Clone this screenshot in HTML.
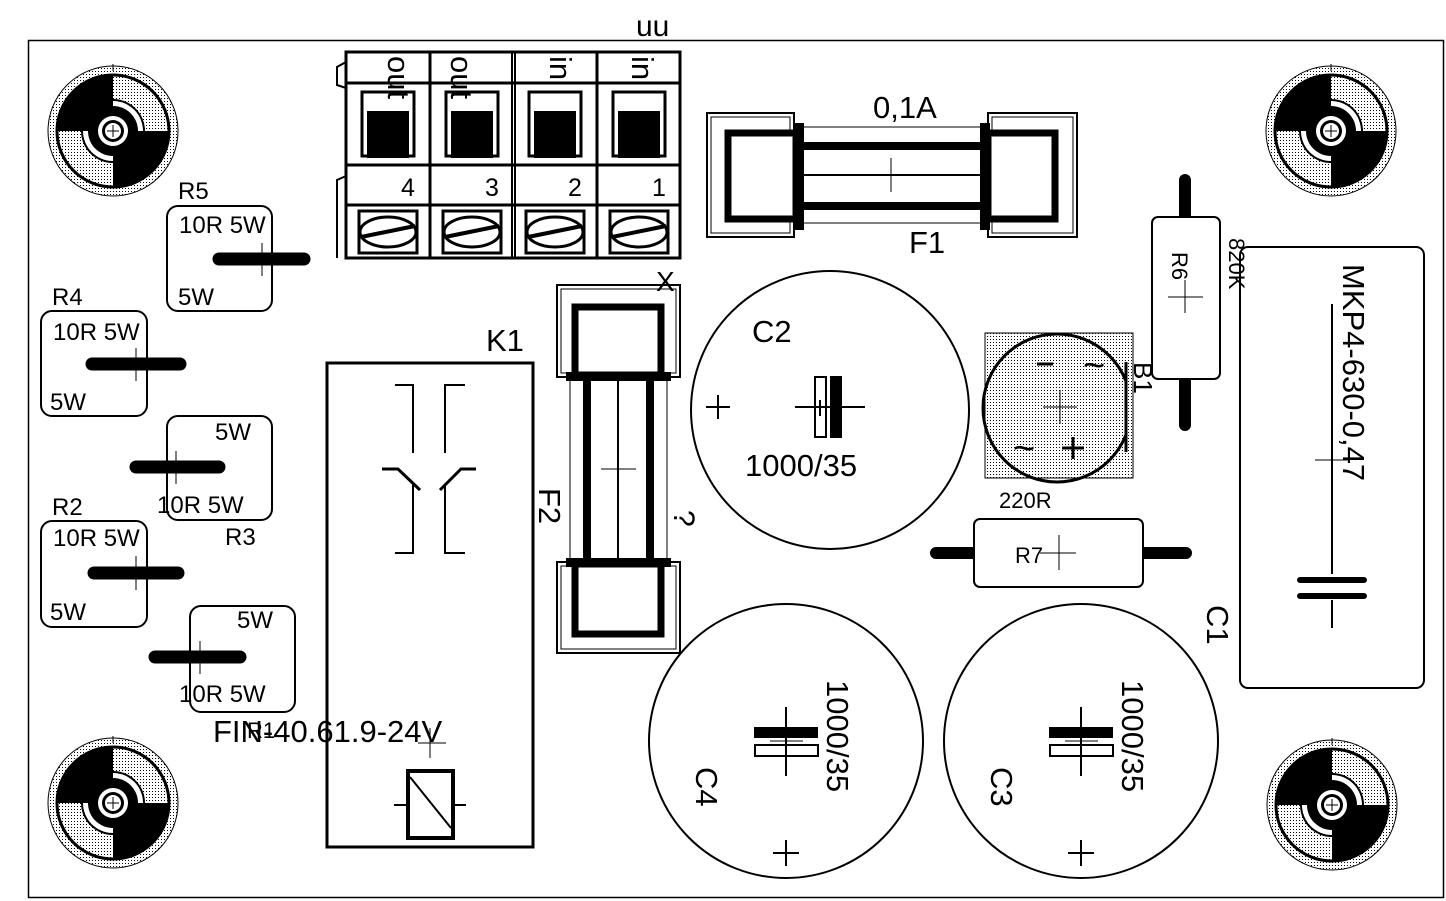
<!DOCTYPE html>
<html><head><meta charset="utf-8"><style>
html,body{margin:0;padding:0;background:#fff}
svg{display:block}
text{font-family:"Liberation Sans",sans-serif;fill:#000}
</style></head><body>
<svg width="1446" height="901" viewBox="0 0 1446 901" xmlns="http://www.w3.org/2000/svg">
<defs>
<pattern id="dots" width="3" height="3" patternUnits="userSpaceOnUse"><rect width="3" height="3" fill="#fff"/><rect width="1" height="1" fill="#000"/></pattern>
<clipPath id="b1clip"><rect x="970" y="320" width="157" height="180"/></clipPath>
<g id="hole">
<circle r="65" fill="url(#dots)" stroke="#000" stroke-width="1"/>
<circle r="56" fill="url(#dots)" stroke="#000" stroke-width="3"/>
<path d="M0,0 L0,-55 A55,55 0 0 0 -55,0 Z" fill="#000"/>
<path d="M0,0 L0,55 A55,55 0 0 0 55,0 Z" fill="#000"/>
<path d="M0,-32 A32,32 0 0 1 32,0 L0,0Z" fill="#000"/>
<path d="M0,-30 A30,30 0 0 1 30,0 L0,0Z" fill="#fff"/>
<path d="M0,-25 A25,25 0 0 1 25,0 L0,0Z" fill="#000"/>
<path d="M0,32 A32,32 0 0 1 -32,0 L0,0Z" fill="#000"/>
<path d="M0,30 A30,30 0 0 1 -30,0 L0,0Z" fill="#fff"/>
<path d="M0,25 A25,25 0 0 1 -25,0 L0,0Z" fill="#000"/>
<circle r="15" fill="#fff"/>
<circle r="11" fill="#000"/>
<circle r="8" fill="#fff"/>
<path d="M-6,0H6M0,-6V6" stroke="#000" stroke-width="1"/>
<path d="M0,-67V-60" stroke="#000" stroke-width="1"/>
</g>
</defs>
<rect x="0" y="0" width="1446" height="901" fill="#fff"/>
<rect x="28.5" y="40.5" width="1415" height="857" fill="none" stroke="#000" stroke-width="1.5"/>

<use href="#hole" x="113" y="131"/>
<use href="#hole" x="1331" y="131"/>
<use href="#hole" x="113" y="803"/>
<use href="#hole" x="1332" y="805"/>

<!-- terminal block -->
<text x="636" y="36" font-size="30">uu</text>
<g fill="none" stroke="#000">
<rect x="346" y="52" width="334" height="206" stroke-width="3"/>
<path d="M512,52V258M515,52V258" stroke-width="2"/>
<path d="M430,52V258M597,52V258" stroke-width="3"/>
<path d="M346,83H680M346,165H680M346,205H680" stroke-width="3"/>
<path d="M346,62L337,67V85L346,88M346,176L337,180V258" stroke-width="2"/>
</g>
<g id="cell">
<rect x="362" y="92" width="52" height="64" fill="none" stroke="#000" stroke-width="3"/>
<rect x="367" y="111" width="42" height="47" fill="#000"/>
<rect x="359" y="211" width="58" height="42" fill="none" stroke="#000" stroke-width="3"/>
<ellipse cx="388" cy="232" rx="28" ry="15" fill="none" stroke="#000" stroke-width="3"/>
<path d="M361,237L415,226" stroke="#000" stroke-width="4"/>
</g>
<use href="#cell" x="84"/>
<use href="#cell" x="167"/>
<use href="#cell" x="251"/>
<text x="401" y="196" font-size="25">4</text>
<text x="485" y="196" font-size="25">3</text>
<text x="568" y="196" font-size="25">2</text>
<text x="652" y="196" font-size="25">1</text>
<text transform="translate(388,56) rotate(90)" font-size="31">out</text>
<text transform="translate(451,56) rotate(90)" font-size="31">out</text>
<text transform="translate(550,56) rotate(90)" font-size="31">in</text>
<text transform="translate(632,56) rotate(90)" font-size="31">in</text>

<!-- F1 -->
<g fill="none" stroke="#000">
<rect x="707" y="113" width="87" height="124" stroke-width="2"/>
<rect x="711" y="117" width="79" height="116" stroke-width="1"/>
<rect x="988" y="113" width="89" height="124" stroke-width="2"/>
<rect x="992" y="117" width="81" height="116" stroke-width="1"/>
<rect x="728" y="133" width="68" height="86" stroke-width="7" fill="#fff"/>
<rect x="988" y="133" width="67" height="86" stroke-width="7" fill="#fff"/>
<path d="M796,127H988M796,223H988" stroke-width="1"/>
<path d="M796,146H988M796,206H988" stroke-width="8"/>
<path d="M796,175H988" stroke-width="2"/>
<path d="M891,158V192" stroke-width="1"/>
</g>
<rect x="794" y="123" width="10" height="107" fill="#000"/>
<rect x="980" y="123" width="10" height="107" fill="#000"/>
<text x="873" y="118" font-size="31">0,1A</text>
<text x="909" y="253" font-size="31">F1</text>

<!-- F2 -->
<g fill="none" stroke="#000">
<rect x="557" y="285" width="123" height="92" stroke-width="2"/>
<rect x="561" y="289" width="115" height="84" stroke-width="1"/>
<rect x="557" y="562" width="123" height="91" stroke-width="2"/>
<rect x="561" y="566" width="115" height="83" stroke-width="1"/>
<rect x="575" y="307" width="86" height="68" stroke-width="7" fill="#fff"/>
<rect x="575" y="564" width="86" height="70" stroke-width="7" fill="#fff"/>
<path d="M570,377V562M667,377V562" stroke-width="1"/>
<path d="M587,377V562M650,377V562" stroke-width="8"/>
<path d="M618,377V562" stroke-width="2"/>
<path d="M601,469H636" stroke-width="1"/>
</g>
<rect x="566" y="372" width="105" height="9" fill="#000"/>
<rect x="566" y="558" width="105" height="9" fill="#000"/>
<text x="656" y="291" font-size="28">X</text>
<text transform="translate(539,488) rotate(90)" font-size="31">F2</text>
<text transform="translate(674,510) rotate(90)" font-size="30">?</text>

<!-- K1 -->
<text x="486" y="351" font-size="31">K1</text>
<g fill="none" stroke="#000" stroke-width="2">
<rect x="327" y="363" width="206" height="484" stroke-width="3"/>
<path d="M395,385H413V453M465,385H445V453"/>
<path d="M382,469H398L420,490M476,469H461L440,490" stroke-width="3"/>
<path d="M413,485V553H395M445,485V553H465"/>
<rect x="408" y="771" width="45" height="67" stroke-width="4"/>
<path d="M410,777L451,828M394,805H408M453,805H466"/>
<path d="M430,728V758M418,743H446" stroke-width="1"/>
</g>
<text x="213" y="742" font-size="31">FIN-40.61.9-24V</text>
<text x="247" y="738" font-size="22">R1</text>

<!-- left resistors -->
<g fill="none" stroke="#000" stroke-width="2">
<rect x="167" y="206" width="105" height="105" rx="11"/>
<rect x="41" y="311" width="106" height="105" rx="11"/>
<rect x="167" y="416" width="105" height="104" rx="11"/>
<rect x="41" y="521" width="106" height="106" rx="11"/>
<rect x="190" y="606" width="105" height="106" rx="11"/>
</g>
<g stroke="#000" stroke-width="13" stroke-linecap="round">
<path d="M219,259H304M92,364H180M136,467H219M94,573H178M155,657H240"/>
</g>
<g stroke="#000" stroke-width="1">
<path d="M262,243V276M136,348V381M176,451V484M136,556V590M200,641V674"/>
</g>
<g font-size="24">
<text x="178" y="199">R5</text><text x="179" y="233">10R 5W</text><text x="178" y="305">5W</text>
<text x="52" y="305">R4</text><text x="53" y="340">10R 5W</text><text x="50" y="410">5W</text>
<text x="215" y="440">5W</text><text x="157" y="513">10R 5W</text><text x="225" y="545">R3</text>
<text x="52" y="515">R2</text><text x="53" y="546">10R 5W</text><text x="50" y="620">5W</text>
<text x="237" y="628">5W</text><text x="179" y="702">10R 5W</text>
</g>

<!-- C2 -->
<circle cx="830" cy="410" r="139" fill="none" stroke="#000" stroke-width="2"/>
<rect x="815" y="377" width="11" height="60" fill="none" stroke="#000" stroke-width="2"/>
<rect x="830" y="376" width="12" height="62" fill="#000"/>
<path d="M795,407H865M820,400V416" stroke="#000" stroke-width="2"/>
<path d="M706,407H730M718,395V419" stroke="#000" stroke-width="2"/>
<text x="752" y="342" font-size="31">C2</text>
<text x="745" y="476" font-size="31">1000/35</text>

<!-- C4 / C3 -->
<g>
<circle cx="786" cy="741" r="137" fill="none" stroke="#000" stroke-width="2"/>
<rect x="754" y="727" width="64" height="11" fill="#000"/>
<rect x="755" y="745" width="63" height="11" fill="none" stroke="#000" stroke-width="2"/>
<path d="M786,707V776" stroke="#000" stroke-width="2"/>
<path d="M770,741H803" stroke="#000" stroke-width="1"/>
<path d="M773,853H799M786,840V866" stroke="#000" stroke-width="2"/>
<text transform="translate(827,680) rotate(90)" font-size="31">1000/35</text>
<text transform="translate(696,767) rotate(90)" font-size="31">C4</text>
</g>
<g transform="translate(295,0)">
<circle cx="786" cy="741" r="137" fill="none" stroke="#000" stroke-width="2"/>
<rect x="754" y="727" width="64" height="11" fill="#000"/>
<rect x="755" y="745" width="63" height="11" fill="none" stroke="#000" stroke-width="2"/>
<path d="M786,707V776" stroke="#000" stroke-width="2"/>
<path d="M770,741H803" stroke="#000" stroke-width="1"/>
<path d="M773,853H799M786,840V866" stroke="#000" stroke-width="2"/>
<text transform="translate(827,680) rotate(90)" font-size="31">1000/35</text>
<text transform="translate(696,767) rotate(90)" font-size="31">C3</text>
</g>

<!-- B1 -->
<rect x="985" y="333" width="148" height="145" fill="url(#dots)" stroke="#000" stroke-width="1"/>
<circle cx="1057" cy="408" r="74" fill="none" stroke="#000" stroke-width="3" clip-path="url(#b1clip)"/>
<path d="M1126,362V452" stroke="#000" stroke-width="3"/>
<path d="M1037,364H1053M1062,448H1084M1073,437V459" stroke="#000" stroke-width="3"/>
<path d="M1043,407H1077M1060,390V424" stroke="#000" stroke-width="1"/>
<text x="1083" y="378" font-size="38">~</text>
<text x="1013" y="461" font-size="38">~</text>
<text transform="translate(1134,362) rotate(90)" font-size="26">B1</text>

<!-- R6 -->
<path d="M1185,180V216M1185,378V425" stroke="#000" stroke-width="12" stroke-linecap="round"/>
<rect x="1152" y="217" width="68" height="162" rx="6" fill="#fff" stroke="#000" stroke-width="2"/>
<path d="M1168,297H1203M1185,280V313" stroke="#000" stroke-width="1"/>
<text transform="translate(1172,252) rotate(90)" font-size="22">R6</text>
<text transform="translate(1229,238) rotate(90)" font-size="22">820K</text>

<!-- C1 -->
<rect x="1240" y="247" width="184" height="441" rx="8" fill="none" stroke="#000" stroke-width="2"/>
<path d="M1332,304V574M1332,600V628" stroke="#000" stroke-width="2"/>
<path d="M1300,580H1364M1300,596H1364" stroke="#000" stroke-width="6" stroke-linecap="round"/>
<path d="M1315,460H1350" stroke="#000" stroke-width="1"/>
<text transform="translate(1343,264) rotate(90)" font-size="31">MKP4-630-0,47</text>
<text transform="translate(1207,605) rotate(90)" font-size="31">C1</text>

<!-- R7 -->
<path d="M936,553H975M1143,553H1186" stroke="#000" stroke-width="12" stroke-linecap="round"/>
<rect x="974" y="519" width="169" height="68" rx="6" fill="#fff" stroke="#000" stroke-width="2"/>
<path d="M1040,553H1076M1059,535V570" stroke="#000" stroke-width="1"/>
<text x="1015" y="563" font-size="22">R7</text>
<text x="999" y="508" font-size="22">220R</text>
</svg>
</body></html>
